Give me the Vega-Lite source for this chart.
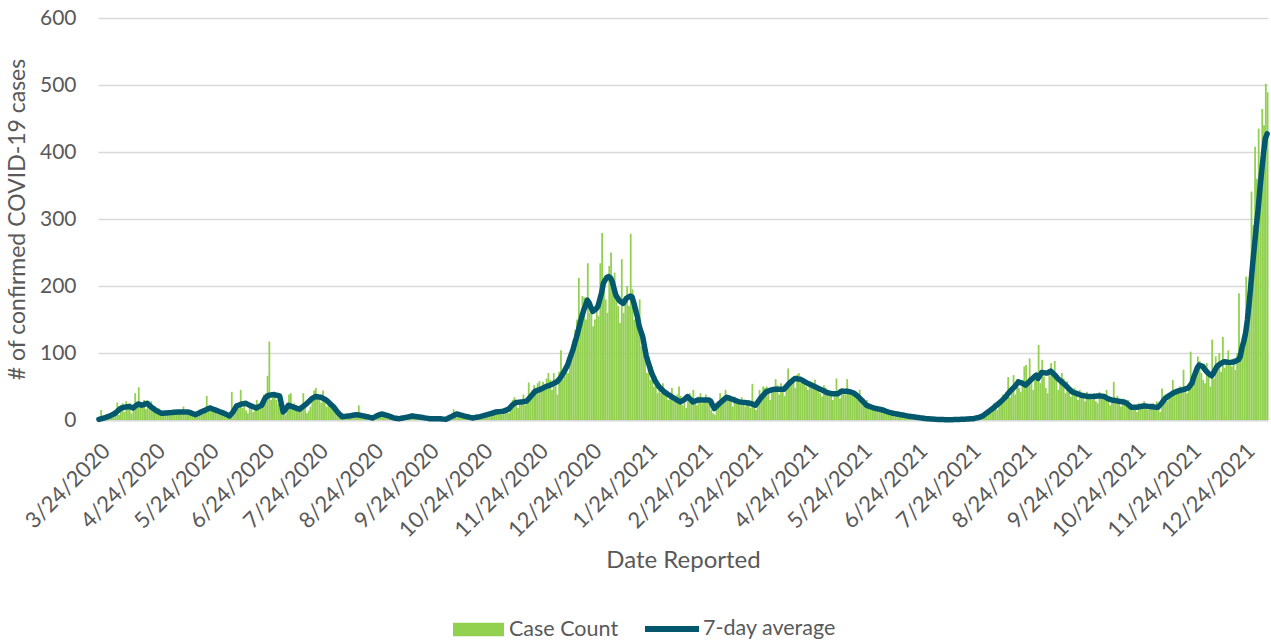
{
"$schema":"https://vega.github.io/schema/vega-lite/v6.json",
"width":1170,"height":402,
"autosize":"none",
"padding":{"left":98,"top":18,"right":3,"bottom":223},
"background":"white",
"config":{"view":{"stroke":null},"font":"Lato"},
"data":{"values":[
{"d":"2020-03-24","c":2,"a":1},{"d":"2020-03-25","c":15,"a":1.7},{"d":"2020-03-26","c":2,"a":2.3},{"d":"2020-03-27","c":4,"a":3},{"d":"2020-03-28","c":6,"a":4},{"d":"2020-03-29","c":3,"a":5},{"d":"2020-03-30","c":8,"a":6},{"d":"2020-03-31","c":12,"a":7.3},
{"d":"2020-04-01","c":10,"a":8.6},{"d":"2020-04-02","c":14,"a":10},{"d":"2020-04-03","c":26,"a":12.3},{"d":"2020-04-04","c":8,"a":14.7},{"d":"2020-04-05","c":22,"a":17},{"d":"2020-04-06","c":25,"a":18},{"d":"2020-04-07","c":12,"a":19},{"d":"2020-04-08","c":28,"a":19.3},{"d":"2020-04-09","c":18,"a":19.7},{"d":"2020-04-10","c":25,"a":20},{"d":"2020-04-11","c":10,"a":19},{"d":"2020-04-12","c":16,"a":18},{"d":"2020-04-13","c":40,"a":20},{"d":"2020-04-14","c":20,"a":22},{"d":"2020-04-15","c":49,"a":24},{"d":"2020-04-16","c":24,"a":23},{"d":"2020-04-17","c":18,"a":22},{"d":"2020-04-18","c":30,"a":23},{"d":"2020-04-19","c":16,"a":24},{"d":"2020-04-20","c":24,"a":25},{"d":"2020-04-21","c":22,"a":22.5},{"d":"2020-04-22","c":28,"a":20},{"d":"2020-04-23","c":14,"a":18},{"d":"2020-04-24","c":20,"a":16},{"d":"2020-04-25","c":10,"a":14},{"d":"2020-04-26","c":18,"a":12.7},{"d":"2020-04-27","c":12,"a":11.3},{"d":"2020-04-28","c":8,"a":10},{"d":"2020-04-29","c":10,"a":10.2},{"d":"2020-04-30","c":12,"a":10.4},
{"d":"2020-05-01","c":8,"a":10.6},{"d":"2020-05-02","c":14,"a":10.8},{"d":"2020-05-03","c":12,"a":11},{"d":"2020-05-04","c":10,"a":11.2},{"d":"2020-05-05","c":16,"a":11.4},{"d":"2020-05-06","c":9,"a":11.6},{"d":"2020-05-07","c":12,"a":11.8},{"d":"2020-05-08","c":14,"a":12},{"d":"2020-05-09","c":11,"a":12},{"d":"2020-05-10","c":20,"a":12},{"d":"2020-05-11","c":8,"a":12},{"d":"2020-05-12","c":12,"a":12},{"d":"2020-05-13","c":15,"a":12},{"d":"2020-05-14","c":10,"a":11},{"d":"2020-05-15","c":6,"a":10},{"d":"2020-05-16","c":9,"a":9},{"d":"2020-05-17","c":5,"a":8},{"d":"2020-05-18","c":12,"a":9.3},{"d":"2020-05-19","c":14,"a":10.5},{"d":"2020-05-20","c":10,"a":11.8},{"d":"2020-05-21","c":18,"a":13},{"d":"2020-05-22","c":16,"a":14},{"d":"2020-05-23","c":36,"a":15.5},{"d":"2020-05-24","c":20,"a":16.8},{"d":"2020-05-25","c":14,"a":18},{"d":"2020-05-26","c":18,"a":17},{"d":"2020-05-27","c":12,"a":16},{"d":"2020-05-28","c":16,"a":15},{"d":"2020-05-29","c":10,"a":14},{"d":"2020-05-30","c":14,"a":13},{"d":"2020-05-31","c":12,"a":12},
{"d":"2020-06-01","c":10,"a":11},{"d":"2020-06-02","c":8,"a":10},{"d":"2020-06-03","c":4,"a":8.7},{"d":"2020-06-04","c":6,"a":7.3},{"d":"2020-06-05","c":3,"a":6},{"d":"2020-06-06","c":42,"a":9},{"d":"2020-06-07","c":12,"a":12},{"d":"2020-06-08","c":20,"a":16.5},{"d":"2020-06-09","c":24,"a":21},{"d":"2020-06-10","c":22,"a":22},{"d":"2020-06-11","c":45,"a":23},{"d":"2020-06-12","c":18,"a":24},{"d":"2020-06-13","c":28,"a":24.5},{"d":"2020-06-14","c":14,"a":25},{"d":"2020-06-15","c":10,"a":23.7},{"d":"2020-06-16","c":25,"a":22.3},{"d":"2020-06-17","c":16,"a":21},{"d":"2020-06-18","c":12,"a":20},{"d":"2020-06-19","c":20,"a":19},{"d":"2020-06-20","c":30,"a":18},{"d":"2020-06-21","c":18,"a":19.3},{"d":"2020-06-22","c":24,"a":20.7},{"d":"2020-06-23","c":28,"a":22},{"d":"2020-06-24","c":38,"a":27.5},{"d":"2020-06-25","c":40,"a":33},{"d":"2020-06-26","c":66,"a":35},{"d":"2020-06-27","c":117,"a":37},{"d":"2020-06-28","c":30,"a":37.3},{"d":"2020-06-29","c":40,"a":37.7},{"d":"2020-06-30","c":35,"a":38},
{"d":"2020-07-01","c":30,"a":37},{"d":"2020-07-02","c":24,"a":36.5},{"d":"2020-07-03","c":18,"a":36},{"d":"2020-07-04","c":12,"a":24},{"d":"2020-07-05","c":10,"a":12},{"d":"2020-07-06","c":8,"a":15},{"d":"2020-07-07","c":20,"a":18.5},{"d":"2020-07-08","c":38,"a":22},{"d":"2020-07-09","c":40,"a":21},{"d":"2020-07-10","c":22,"a":20},{"d":"2020-07-11","c":25,"a":19},{"d":"2020-07-12","c":14,"a":18},{"d":"2020-07-13","c":12,"a":17},{"d":"2020-07-14","c":18,"a":16},{"d":"2020-07-15","c":16,"a":18},{"d":"2020-07-16","c":40,"a":20},{"d":"2020-07-17","c":22,"a":22},{"d":"2020-07-18","c":10,"a":24},{"d":"2020-07-19","c":14,"a":26.7},{"d":"2020-07-20","c":20,"a":29.3},{"d":"2020-07-21","c":34,"a":32},{"d":"2020-07-22","c":44,"a":33.5},{"d":"2020-07-23","c":48,"a":35},{"d":"2020-07-24","c":36,"a":34.7},{"d":"2020-07-25","c":30,"a":34.3},{"d":"2020-07-26","c":26,"a":34},{"d":"2020-07-27","c":44,"a":32.7},{"d":"2020-07-28","c":32,"a":31.3},{"d":"2020-07-29","c":20,"a":30},{"d":"2020-07-30","c":28,"a":27.5},{"d":"2020-07-31","c":22,"a":25},
{"d":"2020-08-01","c":18,"a":22.5},{"d":"2020-08-02","c":24,"a":20},{"d":"2020-08-03","c":12,"a":16.7},{"d":"2020-08-04","c":8,"a":13.3},{"d":"2020-08-05","c":6,"a":10},{"d":"2020-08-06","c":3,"a":7.5},{"d":"2020-08-07","c":5,"a":5},{"d":"2020-08-08","c":4,"a":5.3},{"d":"2020-08-09","c":2,"a":5.5},{"d":"2020-08-10","c":7,"a":5.8},{"d":"2020-08-11","c":6,"a":6},{"d":"2020-08-12","c":9,"a":6.5},{"d":"2020-08-13","c":5,"a":7},{"d":"2020-08-14","c":10,"a":7.5},{"d":"2020-08-15","c":8,"a":8},{"d":"2020-08-16","c":22,"a":7.5},{"d":"2020-08-17","c":6,"a":7},{"d":"2020-08-18","c":4,"a":6.5},{"d":"2020-08-19","c":8,"a":6},{"d":"2020-08-20","c":5,"a":5.4},{"d":"2020-08-21","c":3,"a":4.8},{"d":"2020-08-22","c":6,"a":4.2},{"d":"2020-08-23","c":2,"a":3.6},{"d":"2020-08-24","c":1,"a":3},{"d":"2020-08-25","c":4,"a":4.3},{"d":"2020-08-26","c":3,"a":5.7},{"d":"2020-08-27","c":10,"a":7},{"d":"2020-08-28","c":7,"a":8},{"d":"2020-08-29","c":12,"a":9},{"d":"2020-08-30","c":8,"a":8.3},{"d":"2020-08-31","c":6,"a":7.5},
{"d":"2020-09-01","c":6,"a":6.8},{"d":"2020-09-02","c":8,"a":6},{"d":"2020-09-03","c":4,"a":5},{"d":"2020-09-04","c":3,"a":4},{"d":"2020-09-05","c":2,"a":3},{"d":"2020-09-06","c":5,"a":2.7},{"d":"2020-09-07","c":1,"a":2.3},{"d":"2020-09-08","c":0,"a":2},{"d":"2020-09-09","c":3,"a":2.5},{"d":"2020-09-10","c":2,"a":3},{"d":"2020-09-11","c":5,"a":3.5},{"d":"2020-09-12","c":6,"a":4},{"d":"2020-09-13","c":3,"a":4.7},{"d":"2020-09-14","c":8,"a":5.3},{"d":"2020-09-15","c":10,"a":6},{"d":"2020-09-16","c":5,"a":5.6},{"d":"2020-09-17","c":4,"a":5.2},{"d":"2020-09-18","c":7,"a":4.8},{"d":"2020-09-19","c":3,"a":4.4},{"d":"2020-09-20","c":6,"a":4},{"d":"2020-09-21","c":2,"a":3.6},{"d":"2020-09-22","c":3,"a":3.2},{"d":"2020-09-23","c":5,"a":2.8},{"d":"2020-09-24","c":1,"a":2.4},{"d":"2020-09-25","c":2,"a":2},{"d":"2020-09-26","c":4,"a":2},{"d":"2020-09-27","c":3,"a":2},{"d":"2020-09-28","c":0,"a":2},{"d":"2020-09-29","c":1,"a":2},{"d":"2020-09-30","c":2,"a":2},
{"d":"2020-10-01","c":2,"a":1.8},{"d":"2020-10-02","c":1,"a":1.5},{"d":"2020-10-03","c":0,"a":1.3},{"d":"2020-10-04","c":1,"a":1},{"d":"2020-10-05","c":3,"a":2.3},{"d":"2020-10-06","c":4,"a":3.7},{"d":"2020-10-07","c":2,"a":5},{"d":"2020-10-08","c":16,"a":6.3},{"d":"2020-10-09","c":10,"a":7.7},{"d":"2020-10-10","c":9,"a":9},{"d":"2020-10-11","c":12,"a":8.3},{"d":"2020-10-12","c":6,"a":7.5},{"d":"2020-10-13","c":5,"a":6.8},{"d":"2020-10-14","c":8,"a":6},{"d":"2020-10-15","c":4,"a":5.4},{"d":"2020-10-16","c":3,"a":4.8},{"d":"2020-10-17","c":2,"a":4.2},{"d":"2020-10-18","c":6,"a":3.6},{"d":"2020-10-19","c":3,"a":3},{"d":"2020-10-20","c":1,"a":3.5},{"d":"2020-10-21","c":5,"a":4},{"d":"2020-10-22","c":4,"a":4.5},{"d":"2020-10-23","c":8,"a":5},{"d":"2020-10-24","c":6,"a":5.8},{"d":"2020-10-25","c":3,"a":6.5},{"d":"2020-10-26","c":9,"a":7.3},{"d":"2020-10-27","c":10,"a":8},{"d":"2020-10-28","c":7,"a":8.8},{"d":"2020-10-29","c":12,"a":9.6},{"d":"2020-10-30","c":14,"a":10.4},{"d":"2020-10-31","c":12,"a":11.2},
{"d":"2020-11-01","c":10,"a":12},{"d":"2020-11-02","c":16,"a":12.3},{"d":"2020-11-03","c":14,"a":12.5},{"d":"2020-11-04","c":8,"a":12.8},{"d":"2020-11-05","c":18,"a":13},{"d":"2020-11-06","c":12,"a":14},{"d":"2020-11-07","c":20,"a":15},{"d":"2020-11-08","c":10,"a":16},{"d":"2020-11-09","c":22,"a":19},{"d":"2020-11-10","c":30,"a":22},{"d":"2020-11-11","c":34,"a":24},{"d":"2020-11-12","c":26,"a":26},{"d":"2020-11-13","c":18,"a":26.3},{"d":"2020-11-14","c":30,"a":26.7},{"d":"2020-11-15","c":24,"a":27},{"d":"2020-11-16","c":38,"a":27.3},{"d":"2020-11-17","c":22,"a":27.7},{"d":"2020-11-18","c":30,"a":28},{"d":"2020-11-19","c":56,"a":31},{"d":"2020-11-20","c":40,"a":34},{"d":"2020-11-21","c":45,"a":37},{"d":"2020-11-22","c":52,"a":40},{"d":"2020-11-23","c":48,"a":43},{"d":"2020-11-24","c":55,"a":44},{"d":"2020-11-25","c":58,"a":45},{"d":"2020-11-26","c":42,"a":46},{"d":"2020-11-27","c":57,"a":47.3},{"d":"2020-11-28","c":45,"a":48.7},{"d":"2020-11-29","c":62,"a":50},{"d":"2020-11-30","c":70,"a":51},
{"d":"2020-12-01","c":60,"a":51.7},{"d":"2020-12-02","c":45,"a":53},{"d":"2020-12-03","c":70,"a":54.3},{"d":"2020-12-04","c":55,"a":55.7},{"d":"2020-12-05","c":38,"a":57},{"d":"2020-12-06","c":72,"a":60},{"d":"2020-12-07","c":104,"a":63},{"d":"2020-12-08","c":60,"a":67.5},{"d":"2020-12-09","c":65,"a":72},{"d":"2020-12-10","c":80,"a":77},{"d":"2020-12-11","c":70,"a":82},{"d":"2020-12-12","c":95,"a":90},{"d":"2020-12-13","c":90,"a":97.5},{"d":"2020-12-14","c":120,"a":105},{"d":"2020-12-15","c":135,"a":115},{"d":"2020-12-16","c":150,"a":124},{"d":"2020-12-17","c":212,"a":134},{"d":"2020-12-18","c":160,"a":145},{"d":"2020-12-19","c":185,"a":155},{"d":"2020-12-20","c":183,"a":164},{"d":"2020-12-21","c":150,"a":171},{"d":"2020-12-22","c":234,"a":179},{"d":"2020-12-23","c":160,"a":175},{"d":"2020-12-24","c":175,"a":168},{"d":"2020-12-25","c":140,"a":162},{"d":"2020-12-26","c":150,"a":164},{"d":"2020-12-27","c":175,"a":166},{"d":"2020-12-28","c":155,"a":170},{"d":"2020-12-29","c":234,"a":180},{"d":"2020-12-30","c":279,"a":190},{"d":"2020-12-31","c":210,"a":204},
{"d":"2021-01-01","c":180,"a":209},{"d":"2021-01-02","c":160,"a":213},{"d":"2021-01-03","c":230,"a":214},{"d":"2021-01-04","c":250,"a":212},{"d":"2021-01-05","c":205,"a":206},{"d":"2021-01-06","c":220,"a":196},{"d":"2021-01-07","c":190,"a":186},{"d":"2021-01-08","c":170,"a":182},{"d":"2021-01-09","c":145,"a":178},{"d":"2021-01-10","c":240,"a":176},{"d":"2021-01-11","c":160,"a":174},{"d":"2021-01-12","c":185,"a":178},{"d":"2021-01-13","c":200,"a":182},{"d":"2021-01-14","c":170,"a":183.5},{"d":"2021-01-15","c":278,"a":185},{"d":"2021-01-16","c":195,"a":184},{"d":"2021-01-17","c":150,"a":175},{"d":"2021-01-18","c":165,"a":164.5},{"d":"2021-01-19","c":140,"a":154},{"d":"2021-01-20","c":180,"a":140},{"d":"2021-01-21","c":110,"a":132},{"d":"2021-01-22","c":128,"a":124},{"d":"2021-01-23","c":90,"a":109.5},{"d":"2021-01-24","c":70,"a":95},{"d":"2021-01-25","c":95,"a":86.5},{"d":"2021-01-26","c":60,"a":78},{"d":"2021-01-27","c":80,"a":70},{"d":"2021-01-28","c":50,"a":64},{"d":"2021-01-29","c":65,"a":58},{"d":"2021-01-30","c":40,"a":54},{"d":"2021-01-31","c":45,"a":50},
{"d":"2021-02-01","c":40,"a":47.3},{"d":"2021-02-02","c":55,"a":44.7},{"d":"2021-02-03","c":38,"a":42},{"d":"2021-02-04","c":45,"a":40.3},{"d":"2021-02-05","c":30,"a":38.5},{"d":"2021-02-06","c":35,"a":36.8},{"d":"2021-02-07","c":48,"a":35},{"d":"2021-02-08","c":28,"a":33.3},{"d":"2021-02-09","c":30,"a":31.7},{"d":"2021-02-10","c":38,"a":30},{"d":"2021-02-11","c":50,"a":28.5},{"d":"2021-02-12","c":36,"a":27},{"d":"2021-02-13","c":22,"a":28.5},{"d":"2021-02-14","c":30,"a":30},{"d":"2021-02-15","c":18,"a":32.5},{"d":"2021-02-16","c":35,"a":35},{"d":"2021-02-17","c":40,"a":32.5},{"d":"2021-02-18","c":28,"a":30},{"d":"2021-02-19","c":45,"a":27},{"d":"2021-02-20","c":30,"a":28},{"d":"2021-02-21","c":22,"a":29},{"d":"2021-02-22","c":35,"a":30},{"d":"2021-02-23","c":40,"a":30},{"d":"2021-02-24","c":25,"a":30},{"d":"2021-02-25","c":32,"a":30},{"d":"2021-02-26","c":38,"a":30},{"d":"2021-02-27","c":28,"a":30},{"d":"2021-02-28","c":30,"a":30},
{"d":"2021-03-01","c":15,"a":28},{"d":"2021-03-02","c":10,"a":22.5},{"d":"2021-03-03","c":8,"a":17},{"d":"2021-03-04","c":25,"a":19.7},{"d":"2021-03-05","c":22,"a":22.3},{"d":"2021-03-06","c":40,"a":25},{"d":"2021-03-07","c":28,"a":27.3},{"d":"2021-03-08","c":32,"a":29.5},{"d":"2021-03-09","c":45,"a":31.8},{"d":"2021-03-10","c":30,"a":34},{"d":"2021-03-11","c":36,"a":33},{"d":"2021-03-12","c":28,"a":32},{"d":"2021-03-13","c":20,"a":31},{"d":"2021-03-14","c":35,"a":30},{"d":"2021-03-15","c":30,"a":29},{"d":"2021-03-16","c":25,"a":28},{"d":"2021-03-17","c":22,"a":27},{"d":"2021-03-18","c":34,"a":26.7},{"d":"2021-03-19","c":28,"a":26.3},{"d":"2021-03-20","c":20,"a":26},{"d":"2021-03-21","c":26,"a":25.7},{"d":"2021-03-22","c":30,"a":25.3},{"d":"2021-03-23","c":18,"a":25},{"d":"2021-03-24","c":54,"a":24},{"d":"2021-03-25","c":20,"a":23},{"d":"2021-03-26","c":15,"a":22},{"d":"2021-03-27","c":28,"a":25.7},{"d":"2021-03-28","c":45,"a":29.3},{"d":"2021-03-29","c":38,"a":33},{"d":"2021-03-30","c":50,"a":36},{"d":"2021-03-31","c":48,"a":39},
{"d":"2021-04-01","c":50,"a":42},{"d":"2021-04-02","c":45,"a":43},{"d":"2021-04-03","c":30,"a":44},{"d":"2021-04-04","c":45,"a":45},{"d":"2021-04-05","c":48,"a":45.5},{"d":"2021-04-06","c":61,"a":46},{"d":"2021-04-07","c":52,"a":46},{"d":"2021-04-08","c":38,"a":46},{"d":"2021-04-09","c":55,"a":46},{"d":"2021-04-10","c":42,"a":46},{"d":"2021-04-11","c":36,"a":46},{"d":"2021-04-12","c":50,"a":49},{"d":"2021-04-13","c":77,"a":52},{"d":"2021-04-14","c":60,"a":55},{"d":"2021-04-15","c":54,"a":57.3},{"d":"2021-04-16","c":62,"a":59.7},{"d":"2021-04-17","c":48,"a":62},{"d":"2021-04-18","c":68,"a":61.7},{"d":"2021-04-19","c":70,"a":61.3},{"d":"2021-04-20","c":55,"a":61},{"d":"2021-04-21","c":60,"a":59.5},{"d":"2021-04-22","c":62,"a":58},{"d":"2021-04-23","c":50,"a":56.5},{"d":"2021-04-24","c":45,"a":55},{"d":"2021-04-25","c":58,"a":53.8},{"d":"2021-04-26","c":52,"a":52.5},{"d":"2021-04-27","c":48,"a":51.3},{"d":"2021-04-28","c":60,"a":50},{"d":"2021-04-29","c":44,"a":48.8},{"d":"2021-04-30","c":50,"a":47.5},
{"d":"2021-05-01","c":40,"a":46.3},{"d":"2021-05-02","c":35,"a":45},{"d":"2021-05-03","c":52,"a":43.7},{"d":"2021-05-04","c":48,"a":42.3},{"d":"2021-05-05","c":44,"a":41},{"d":"2021-05-06","c":38,"a":40.3},{"d":"2021-05-07","c":42,"a":39.7},{"d":"2021-05-08","c":30,"a":39},{"d":"2021-05-09","c":36,"a":39},{"d":"2021-05-10","c":62,"a":39},{"d":"2021-05-11","c":40,"a":39},{"d":"2021-05-12","c":32,"a":41},{"d":"2021-05-13","c":48,"a":43},{"d":"2021-05-14","c":45,"a":43},{"d":"2021-05-15","c":38,"a":43},{"d":"2021-05-16","c":61,"a":43},{"d":"2021-05-17","c":44,"a":42.5},{"d":"2021-05-18","c":40,"a":42},{"d":"2021-05-19","c":42,"a":41},{"d":"2021-05-20","c":36,"a":40},{"d":"2021-05-21","c":42,"a":38},{"d":"2021-05-22","c":30,"a":36},{"d":"2021-05-23","c":45,"a":33.3},{"d":"2021-05-24","c":28,"a":30.7},{"d":"2021-05-25","c":22,"a":28},{"d":"2021-05-26","c":25,"a":25},{"d":"2021-05-27","c":30,"a":22},{"d":"2021-05-28","c":18,"a":21},{"d":"2021-05-29","c":15,"a":20},{"d":"2021-05-30","c":20,"a":19},{"d":"2021-05-31","c":16,"a":18},
{"d":"2021-06-01","c":14,"a":17.4},{"d":"2021-06-02","c":20,"a":16.8},{"d":"2021-06-03","c":18,"a":16.2},{"d":"2021-06-04","c":12,"a":15.6},{"d":"2021-06-05","c":10,"a":15},{"d":"2021-06-06","c":16,"a":14},{"d":"2021-06-07","c":15,"a":13},{"d":"2021-06-08","c":12,"a":12},{"d":"2021-06-09","c":8,"a":11.3},{"d":"2021-06-10","c":14,"a":10.7},{"d":"2021-06-11","c":11,"a":10},{"d":"2021-06-12","c":9,"a":9.5},{"d":"2021-06-13","c":6,"a":9},{"d":"2021-06-14","c":10,"a":8.5},{"d":"2021-06-15","c":8,"a":8},{"d":"2021-06-16","c":12,"a":7.5},{"d":"2021-06-17","c":7,"a":7},{"d":"2021-06-18","c":5,"a":6.5},{"d":"2021-06-19","c":9,"a":6},{"d":"2021-06-20","c":6,"a":5.6},{"d":"2021-06-21","c":4,"a":5.2},{"d":"2021-06-22","c":7,"a":4.8},{"d":"2021-06-23","c":5,"a":4.4},{"d":"2021-06-24","c":3,"a":4},{"d":"2021-06-25","c":6,"a":3.7},{"d":"2021-06-26","c":4,"a":3.3},{"d":"2021-06-27","c":2,"a":3},{"d":"2021-06-28","c":3,"a":2.7},{"d":"2021-06-29","c":1,"a":2.3},{"d":"2021-06-30","c":2,"a":2},
{"d":"2021-07-01","c":2,"a":1.8},{"d":"2021-07-02","c":1,"a":1.6},{"d":"2021-07-03","c":0,"a":1.4},{"d":"2021-07-04","c":3,"a":1.2},{"d":"2021-07-05","c":1,"a":1},{"d":"2021-07-06","c":2,"a":0.9},{"d":"2021-07-07","c":0,"a":0.8},{"d":"2021-07-08","c":1,"a":0.7},{"d":"2021-07-09","c":0,"a":0.6},{"d":"2021-07-10","c":1,"a":0.5},{"d":"2021-07-11","c":0,"a":0.5},{"d":"2021-07-12","c":0,"a":0.5},{"d":"2021-07-13","c":1,"a":0.5},{"d":"2021-07-14","c":0,"a":0.5},{"d":"2021-07-15","c":1,"a":0.6},{"d":"2021-07-16","c":0,"a":0.6},{"d":"2021-07-17","c":0,"a":0.6},{"d":"2021-07-18","c":1,"a":0.8},{"d":"2021-07-19","c":0,"a":1},{"d":"2021-07-20","c":2,"a":1.2},{"d":"2021-07-21","c":1,"a":1.3},{"d":"2021-07-22","c":0,"a":1.4},{"d":"2021-07-23","c":1,"a":1.5},{"d":"2021-07-24","c":2,"a":1.7},{"d":"2021-07-25","c":3,"a":1.8},{"d":"2021-07-26","c":1,"a":2},{"d":"2021-07-27","c":2,"a":2.7},{"d":"2021-07-28","c":0,"a":3.3},{"d":"2021-07-29","c":3,"a":4},{"d":"2021-07-30","c":5,"a":5},{"d":"2021-07-31","c":4,"a":6},
{"d":"2021-08-01","c":10,"a":8},{"d":"2021-08-02","c":6,"a":10},{"d":"2021-08-03","c":14,"a":12},{"d":"2021-08-04","c":18,"a":14},{"d":"2021-08-05","c":12,"a":16},{"d":"2021-08-06","c":25,"a":18},{"d":"2021-08-07","c":20,"a":20.3},{"d":"2021-08-08","c":15,"a":22.5},{"d":"2021-08-09","c":30,"a":24.8},{"d":"2021-08-10","c":24,"a":27},{"d":"2021-08-11","c":38,"a":29.7},{"d":"2021-08-12","c":28,"a":32.3},{"d":"2021-08-13","c":42,"a":35},{"d":"2021-08-14","c":64,"a":38.5},{"d":"2021-08-15","c":34,"a":42},{"d":"2021-08-16","c":45,"a":44.7},{"d":"2021-08-17","c":67,"a":47.3},{"d":"2021-08-18","c":38,"a":50},{"d":"2021-08-19","c":61,"a":53.5},{"d":"2021-08-20","c":48,"a":57},{"d":"2021-08-21","c":42,"a":56},{"d":"2021-08-22","c":60,"a":55},{"d":"2021-08-23","c":80,"a":53.5},{"d":"2021-08-24","c":82,"a":52},{"d":"2021-08-25","c":52,"a":54.7},{"d":"2021-08-26","c":92,"a":57.3},{"d":"2021-08-27","c":58,"a":60},{"d":"2021-08-28","c":45,"a":62.3},{"d":"2021-08-29","c":70,"a":64.7},{"d":"2021-08-30","c":62,"a":67},{"d":"2021-08-31","c":112,"a":62},
{"d":"2021-09-01","c":55,"a":66.5},{"d":"2021-09-02","c":90,"a":71},{"d":"2021-09-03","c":65,"a":70.7},{"d":"2021-09-04","c":48,"a":70.3},{"d":"2021-09-05","c":40,"a":70},{"d":"2021-09-06","c":72,"a":71.5},{"d":"2021-09-07","c":85,"a":73},{"d":"2021-09-08","c":70,"a":70.5},{"d":"2021-09-09","c":88,"a":68},{"d":"2021-09-10","c":60,"a":65},{"d":"2021-09-11","c":45,"a":62},{"d":"2021-09-12","c":55,"a":59.7},{"d":"2021-09-13","c":70,"a":57.3},{"d":"2021-09-14","c":62,"a":55},{"d":"2021-09-15","c":40,"a":52.5},{"d":"2021-09-16","c":58,"a":50},{"d":"2021-09-17","c":50,"a":47.3},{"d":"2021-09-18","c":35,"a":44.7},{"d":"2021-09-19","c":42,"a":42},{"d":"2021-09-20","c":48,"a":41},{"d":"2021-09-21","c":38,"a":40},{"d":"2021-09-22","c":30,"a":39},{"d":"2021-09-23","c":45,"a":38},{"d":"2021-09-24","c":40,"a":37},{"d":"2021-09-25","c":35,"a":36.5},{"d":"2021-09-26","c":28,"a":36},{"d":"2021-09-27","c":42,"a":35.5},{"d":"2021-09-28","c":38,"a":35},{"d":"2021-09-29","c":32,"a":35},{"d":"2021-09-30","c":30,"a":35},
{"d":"2021-10-01","c":40,"a":35},{"d":"2021-10-02","c":28,"a":35.3},{"d":"2021-10-03","c":25,"a":35.7},{"d":"2021-10-04","c":42,"a":36},{"d":"2021-10-05","c":38,"a":35.7},{"d":"2021-10-06","c":35,"a":35.3},{"d":"2021-10-07","c":30,"a":35},{"d":"2021-10-08","c":45,"a":33.5},{"d":"2021-10-09","c":32,"a":32},{"d":"2021-10-10","c":22,"a":31},{"d":"2021-10-11","c":30,"a":30},{"d":"2021-10-12","c":57,"a":29.5},{"d":"2021-10-13","c":28,"a":29},{"d":"2021-10-14","c":36,"a":28.5},{"d":"2021-10-15","c":25,"a":28},{"d":"2021-10-16","c":20,"a":27.5},{"d":"2021-10-17","c":32,"a":27.2},{"d":"2021-10-18","c":28,"a":27},{"d":"2021-10-19","c":24,"a":25.5},{"d":"2021-10-20","c":30,"a":24},{"d":"2021-10-21","c":18,"a":21.5},{"d":"2021-10-22","c":22,"a":19},{"d":"2021-10-23","c":15,"a":19},{"d":"2021-10-24","c":20,"a":19},{"d":"2021-10-25","c":12,"a":19},{"d":"2021-10-26","c":25,"a":19.5},{"d":"2021-10-27","c":22,"a":20},{"d":"2021-10-28","c":18,"a":20.5},{"d":"2021-10-29","c":28,"a":21},{"d":"2021-10-30","c":20,"a":20.8},{"d":"2021-10-31","c":15,"a":20.5},
{"d":"2021-11-01","c":22,"a":20.3},{"d":"2021-11-02","c":18,"a":20},{"d":"2021-11-03","c":25,"a":19.7},{"d":"2021-11-04","c":15,"a":19.3},{"d":"2021-11-05","c":28,"a":19},{"d":"2021-11-06","c":20,"a":19},{"d":"2021-11-07","c":12,"a":22},{"d":"2021-11-08","c":47,"a":25},{"d":"2021-11-09","c":30,"a":28.5},{"d":"2021-11-10","c":38,"a":32},{"d":"2021-11-11","c":28,"a":34},{"d":"2021-11-12","c":40,"a":36},{"d":"2021-11-13","c":35,"a":37.7},{"d":"2021-11-14","c":60,"a":39.3},{"d":"2021-11-15","c":42,"a":41},{"d":"2021-11-16","c":45,"a":42},{"d":"2021-11-17","c":40,"a":43},{"d":"2021-11-18","c":50,"a":44},{"d":"2021-11-19","c":45,"a":44.7},{"d":"2021-11-20","c":75,"a":45.3},{"d":"2021-11-21","c":48,"a":46},{"d":"2021-11-22","c":40,"a":47},{"d":"2021-11-23","c":52,"a":48},{"d":"2021-11-24","c":102,"a":51.5},{"d":"2021-11-25","c":50,"a":55},{"d":"2021-11-26","c":65,"a":64},{"d":"2021-11-27","c":80,"a":71},{"d":"2021-11-28","c":95,"a":78},{"d":"2021-11-29","c":88,"a":82},{"d":"2021-11-30","c":70,"a":81},
{"d":"2021-12-01","c":60,"a":80},{"d":"2021-12-02","c":55,"a":76},{"d":"2021-12-03","c":85,"a":73},{"d":"2021-12-04","c":70,"a":70},{"d":"2021-12-05","c":50,"a":68},{"d":"2021-12-06","c":120,"a":66},{"d":"2021-12-07","c":62,"a":70},{"d":"2021-12-08","c":95,"a":75},{"d":"2021-12-09","c":80,"a":80},{"d":"2021-12-10","c":100,"a":82},{"d":"2021-12-11","c":72,"a":84},{"d":"2021-12-12","c":124,"a":85.5},{"d":"2021-12-13","c":78,"a":87},{"d":"2021-12-14","c":90,"a":86.7},{"d":"2021-12-15","c":104,"a":86.3},{"d":"2021-12-16","c":85,"a":86},{"d":"2021-12-17","c":80,"a":86.3},{"d":"2021-12-18","c":92,"a":86.7},{"d":"2021-12-19","c":75,"a":87},{"d":"2021-12-20","c":100,"a":88.5},{"d":"2021-12-21","c":189,"a":90},{"d":"2021-12-22","c":110,"a":95},{"d":"2021-12-23","c":120,"a":108},{"d":"2021-12-24","c":130,"a":118},{"d":"2021-12-25","c":214,"a":130},{"d":"2021-12-26","c":150,"a":150},{"d":"2021-12-27","c":214,"a":175},{"d":"2021-12-28","c":341,"a":205},{"d":"2021-12-29","c":291,"a":235},{"d":"2021-12-30","c":408,"a":262},{"d":"2021-12-31","c":360,"a":290},
{"d":"2022-01-01","c":435,"a":315},{"d":"2022-01-02","c":380,"a":345},{"d":"2022-01-03","c":464,"a":372},{"d":"2022-01-04","c":440,"a":398},{"d":"2022-01-05","c":502,"a":420},{"d":"2022-01-06","c":489,"a":427}
]},
"layer":[
{"mark":{"type":"bar","binSpacing":0},
 "encoding":{
  "x":{"field":"d","timeUnit":"utcyearmonthdate","type":"temporal",
   "scale":{"type":"utc","domain":[{"year":2020,"month":3,"date":24,"utc":true},{"year":2022,"month":1,"date":7,"utc":true}]},
   "axis":{"title":"Date Reported","format":"%-m/%-d/%Y","labelAngle":-45,"labelFontSize":22,"labelColor":"#595959","labelPadding":20,"ticks":false,"grid":false,"domainColor":"#d9d9d9","domainWidth":2,"labelOverlap":false,"labelFlush":false,
    "titleFontSize":24,"titleColor":"#595959","titleFontWeight":"normal","titleX":585,"titleY":140,"titleAlign":"center","titleBaseline":"middle",
    "values":[{"year":2020,"month":3,"date":24,"hours":12,"utc":true},{"year":2020,"month":4,"date":24,"hours":12,"utc":true},{"year":2020,"month":5,"date":24,"hours":12,"utc":true},{"year":2020,"month":6,"date":24,"hours":12,"utc":true},{"year":2020,"month":7,"date":24,"hours":12,"utc":true},{"year":2020,"month":8,"date":24,"hours":12,"utc":true},{"year":2020,"month":9,"date":24,"hours":12,"utc":true},{"year":2020,"month":10,"date":24,"hours":12,"utc":true},{"year":2020,"month":11,"date":24,"hours":12,"utc":true},{"year":2020,"month":12,"date":24,"hours":12,"utc":true},{"year":2021,"month":1,"date":24,"hours":12,"utc":true},{"year":2021,"month":2,"date":24,"hours":12,"utc":true},{"year":2021,"month":3,"date":24,"hours":12,"utc":true},{"year":2021,"month":4,"date":24,"hours":12,"utc":true},{"year":2021,"month":5,"date":24,"hours":12,"utc":true},{"year":2021,"month":6,"date":24,"hours":12,"utc":true},{"year":2021,"month":7,"date":24,"hours":12,"utc":true},{"year":2021,"month":8,"date":24,"hours":12,"utc":true},{"year":2021,"month":9,"date":24,"hours":12,"utc":true},{"year":2021,"month":10,"date":24,"hours":12,"utc":true},{"year":2021,"month":11,"date":24,"hours":12,"utc":true},{"year":2021,"month":12,"date":24,"hours":12,"utc":true}]}},
  "y":{"field":"c","type":"quantitative","scale":{"domain":[0,600],"nice":false},
   "axis":{"title":"# of confirmed COVID-19 cases","values":[0,100,200,300,400,500,600],"labelFontSize":21,"labelColor":"#595959","labelPadding":22,"ticks":false,"domain":false,"gridColor":"#d9d9d9","gridWidth":1.3,
    "titleFontSize":23,"titleColor":"#595959","titleFontWeight":"normal","titleX":-81,"titleY":201,"titleAngle":-90,"titleAlign":"center","titleBaseline":"middle"}},
  "fill":{"datum":"Case Count","type":"nominal","scale":{"range":["#92D050"]},
   "legend":{"title":null,"orient":"none","legendX":355,"legendY":586,"padding":0,"symbolType":"M-1,-0.26H1V0.26H-1Z","symbolSize":2601,"symbolStrokeWidth":0,"symbolOpacity":1,"labelFontSize":21.5,"labelColor":"#595959","labelOffset":5}}
 }},
{"mark":{"type":"line","strokeWidth":5.5,"strokeCap":"round","strokeJoin":"round"},
 "encoding":{
  "x":{"field":"d","timeUnit":"utcyearmonthdate","type":"temporal","bandPosition":0.5},
  "y":{"field":"a","type":"quantitative"},
  "stroke":{"datum":"7-day average","type":"nominal","scale":{"range":["#03586E"]},
   "legend":{"title":null,"orient":"none","legendX":544,"legendY":581,"padding":0,"symbolType":"stroke","symbolSize":2916,"symbolStrokeWidth":6,"labelFontSize":21.5,"labelColor":"#595959","labelOffset":1}}
 }}
],
"resolve":{"scale":{"fill":"independent","stroke":"independent"}}
}
